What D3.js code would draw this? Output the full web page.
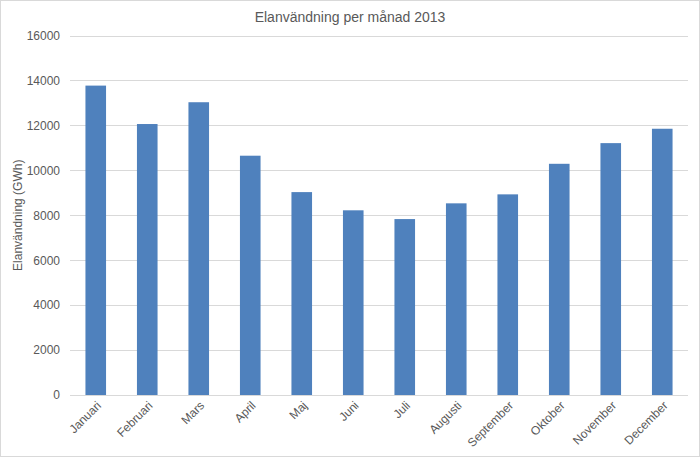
<!DOCTYPE html>
<html>
<head>
<meta charset="utf-8">
<script src="https://cdn.jsdelivr.net/npm/d3@7"></script>
<style>
  html, body { margin: 0; padding: 0; background: #fff; }
  svg { display: block; font-family: "Liberation Sans", Arial, sans-serif; }
</style>
</head>
<body>
<svg id="chart" width="700" height="457"></svg>
<script>
const months = ["Januari","Februari","Mars","April","Maj","Juni","Juli","Augusti","September","Oktober","November","December"];
const values = [13770, 12060, 13030, 10650, 9030, 8220, 7830, 8530, 8930, 10290, 11210, 11850];
const yTicks = [0, 2000, 4000, 6000, 8000, 10000, 12000, 14000, 16000];
const title = "Elanvändning per månad 2013";
const yTitle = "Elanvändning (GWh)";

const W = 700, H = 457;
const margin = { left: 70, right: 12, top: 35.5, bottom: 62 };
const svg = d3.select("#chart");

svg.append("rect").attr("x", 0.5).attr("y", 0.5).attr("width", W - 1).attr("height", H - 1)
  .attr("fill", "#fff").attr("stroke", "#d9d9d9").attr("stroke-width", 1);

const x = d3.scaleBand().domain(months)
  .range([margin.left, W - margin.right])
  .paddingInner(0.6).paddingOuter(0.3);
const y = d3.scaleLinear().domain([0, 16000]).range([H - margin.bottom, margin.top]);

// gridlines
svg.append("g").selectAll("line").data(yTicks).join("line")
  .attr("x1", margin.left).attr("x2", W - margin.right)
  .attr("y1", d => Math.round(y(d)) + 0.5).attr("y2", d => Math.round(y(d)) + 0.5)
  .attr("stroke", "#d9d9d9").attr("stroke-width", 1);

// y axis labels
const yAxis = d3.axisLeft(y).tickValues(yTicks).tickSize(0).tickPadding(10).tickFormat(d3.format("d"));
const gy = svg.append("g").attr("transform", `translate(${margin.left},0)`).call(yAxis);
gy.select(".domain").remove();
gy.selectAll("text").attr("fill", "#595959").style("font-size", "12px")
  .style("font-family", "'Liberation Sans', Arial, sans-serif");

// bars
svg.append("g").selectAll("rect").data(months).join("rect")
  .attr("x", d => x(d)).attr("width", x.bandwidth())
  .attr("y", (d, i) => y(values[i]))
  .attr("height", (d, i) => y(0) - y(values[i]))
  .attr("fill", "#4f81bd");

// x axis labels
const xAxis = d3.axisBottom(x).tickSize(0).tickPadding(0);
const gx = svg.append("g").attr("transform", `translate(0,${y(0)})`).call(xAxis);
gx.select(".domain").remove();
gx.selectAll("text")
  .attr("fill", "#595959").style("font-size", "12px")
  .style("font-family", "'Liberation Sans', Arial, sans-serif")
  .attr("text-anchor", "end")
  .attr("dy", null)
  .attr("transform", "translate(4,9) rotate(-45)")
  .attr("y", 0).attr("x", 0)
  .attr("dominant-baseline", "middle");

// title
svg.append("text").attr("x", W / 2).attr("y", 22).attr("text-anchor", "middle")
  .attr("fill", "#595959").style("font-size", "14px").text(title);

// y title
svg.append("text").attr("transform", `translate(22,${(y(0) + y(16000)) / 2}) rotate(-90)`)
  .attr("text-anchor", "middle").attr("fill", "#595959").style("font-size", "12px").text(yTitle);
</script>
</body>
</html>
